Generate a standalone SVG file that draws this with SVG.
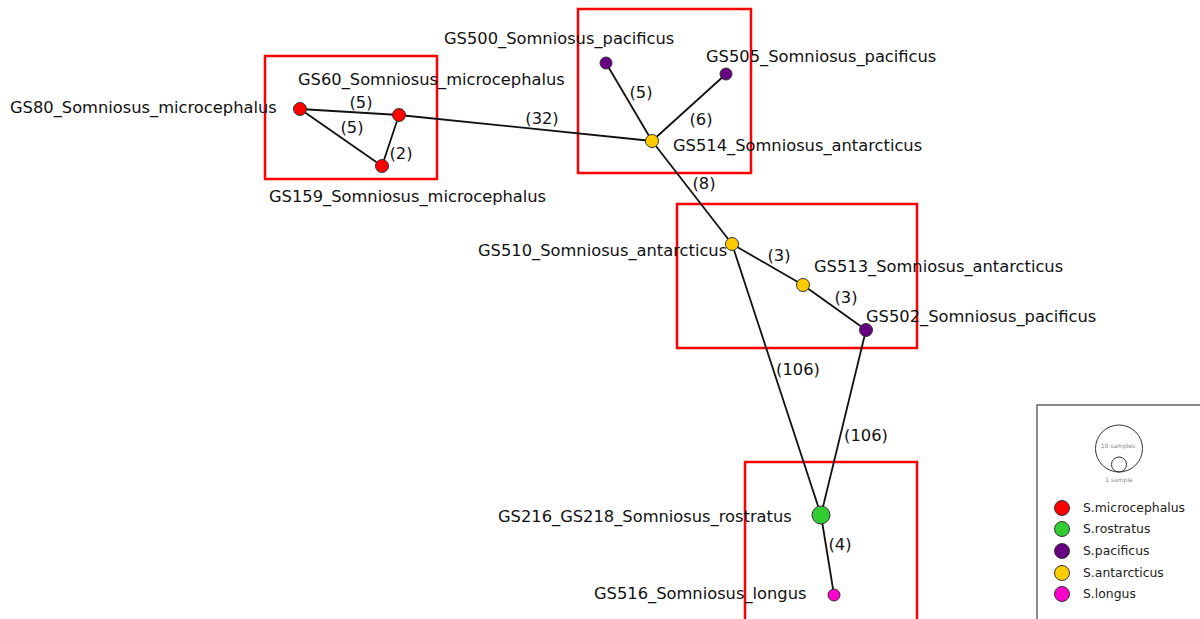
<svg xmlns="http://www.w3.org/2000/svg" width="1200" height="619" viewBox="0 0 1200 619">
  <style>
    .bg { fill: #ffffff; }
    .box { fill: none; stroke: #ff0000; stroke-width: 2.5; }
    .edge { stroke: #111111; stroke-width: 1.8; fill: none; }
    .node { stroke: #333333; stroke-width: 1; }
    .mic { fill: #ff0000; }
    .ros { fill: #33cc33; }
    .pac { fill: #660080; }
    .ant { fill: #ffcc00; }
    .lon { fill: #ff00cc; }
    .lbl { font-family: "DejaVu Sans", "Liberation Sans", sans-serif; font-size: 16.3px; fill: #111111; }
    .elbl { font-family: "DejaVu Sans", "Liberation Sans", sans-serif; font-size: 16.3px; fill: #111111; text-anchor: middle; }
    .leg { font-family: "DejaVu Sans", "Liberation Sans", sans-serif; font-size: 12.4px; fill: #222222; }
    .tiny { font-family: "DejaVu Sans", "Liberation Sans", sans-serif; font-size: 6px; fill: #888888; text-anchor: middle; }
  </style>
  <rect class="bg" x="0" y="0" width="1200" height="619"/>

  <!-- cluster frames -->
  <g id="frames">
    <rect class="box" x="265" y="56" width="172" height="123"/>
    <rect class="box" x="578" y="9" width="173" height="164"/>
    <rect class="box" x="677" y="204" width="240" height="144"/>
    <rect class="box" x="745" y="462" width="172" height="170"/>
  </g>

  <!-- connectors -->
  <g id="connectors">
    <line class="edge" x1="300" y1="109" x2="399" y2="115"/>
    <line class="edge" x1="300" y1="109" x2="382" y2="166"/>
    <line class="edge" x1="399" y1="115" x2="382" y2="166"/>
    <line class="edge" x1="399" y1="115" x2="652" y2="141"/>
    <line class="edge" x1="606" y1="63" x2="652" y2="141"/>
    <line class="edge" x1="726" y1="74" x2="652" y2="141"/>
    <line class="edge" x1="652" y1="141" x2="732" y2="244"/>
    <line class="edge" x1="732" y1="244" x2="803" y2="285"/>
    <line class="edge" x1="803" y1="285" x2="866" y2="330"/>
    <line class="edge" x1="732" y1="244" x2="821" y2="515"/>
    <line class="edge" x1="866" y1="330" x2="821" y2="515"/>
    <line class="edge" x1="821" y1="515" x2="834" y2="595"/>
    <text class="elbl" x="361" y="108">(5)</text>
    <text class="elbl" x="352" y="133">(5)</text>
    <text class="elbl" x="401" y="159">(2)</text>
    <text class="elbl" x="542" y="124">(32)</text>
    <text class="elbl" x="641" y="98">(5)</text>
    <text class="elbl" x="701" y="125">(6)</text>
    <text class="elbl" x="704" y="189">(8)</text>
    <text class="elbl" x="779" y="261">(3)</text>
    <text class="elbl" x="846" y="303">(3)</text>
    <text class="elbl" x="798" y="375">(106)</text>
    <text class="elbl" x="866" y="441">(106)</text>
    <text class="elbl" x="840" y="550">(4)</text>
  </g>

  <g id="GS80"><circle class="node mic" cx="300" cy="109" r="6.5"/><text class="lbl" x="10" y="113">GS80_Somniosus_microcephalus</text></g>
  <g id="GS60"><circle class="node mic" cx="399" cy="115" r="6.5"/><text class="lbl" x="298" y="85">GS60_Somniosus_microcephalus</text></g>
  <g id="GS159"><circle class="node mic" cx="382" cy="166" r="6.5"/><text class="lbl" x="269" y="202">GS159_Somniosus_microcephalus</text></g>
  <g id="GS500"><circle class="node pac" cx="606" cy="63" r="6"/><text class="lbl" x="444" y="44">GS500_Somniosus_pacificus</text></g>
  <g id="GS505"><circle class="node pac" cx="726" cy="74" r="6"/><text class="lbl" x="706" y="62">GS505_Somniosus_pacificus</text></g>
  <g id="GS514"><circle class="node ant" cx="652" cy="141" r="6.5"/><text class="lbl" x="673" y="151">GS514_Somniosus_antarcticus</text></g>
  <g id="GS510"><circle class="node ant" cx="732" cy="244" r="6.5"/><text class="lbl" x="478" y="256">GS510_Somniosus_antarcticus</text></g>
  <g id="GS513"><circle class="node ant" cx="803" cy="285" r="6.5"/><text class="lbl" x="814" y="272">GS513_Somniosus_antarcticus</text></g>
  <g id="GS502"><circle class="node pac" cx="866" cy="330" r="6.5"/><text class="lbl" x="866" y="322">GS502_Somniosus_pacificus</text></g>
  <g id="GS216_GS218"><circle class="node ros" cx="821" cy="515" r="9"/><text class="lbl" x="498" y="522">GS216_GS218_Somniosus_rostratus</text></g>
  <g id="GS516"><circle class="node lon" cx="834" cy="595" r="6"/><text class="lbl" x="594" y="599">GS516_Somniosus_longus</text></g>

  <!-- legend -->
  <g id="legend">
    <rect x="1037" y="405" width="170" height="230" fill="#ffffff" stroke="#666666" stroke-width="1.5"/>
    <circle cx="1119" cy="448.5" r="23.5" fill="none" stroke="#333333" stroke-width="1"/>
    <circle cx="1119" cy="464.5" r="7.5" fill="none" stroke="#333333" stroke-width="1"/>
    <text class="tiny" x="1118" y="448">10 samples</text>
    <text class="tiny" x="1119" y="482">1 sample</text>
    <circle class="node mic" cx="1062" cy="508" r="7.5"/>
    <circle class="node ros" cx="1062" cy="529" r="7.5"/>
    <circle class="node pac" cx="1062" cy="551" r="7.5"/>
    <circle class="node ant" cx="1062" cy="573" r="7.5"/>
    <circle class="node lon" cx="1062" cy="594" r="7.5"/>
    <text class="leg" x="1083" y="512">S.microcephalus</text>
    <text class="leg" x="1083" y="533">S.rostratus</text>
    <text class="leg" x="1083" y="555">S.pacificus</text>
    <text class="leg" x="1083" y="577">S.antarcticus</text>
    <text class="leg" x="1083" y="598">S.longus</text>
  </g>
</svg>
